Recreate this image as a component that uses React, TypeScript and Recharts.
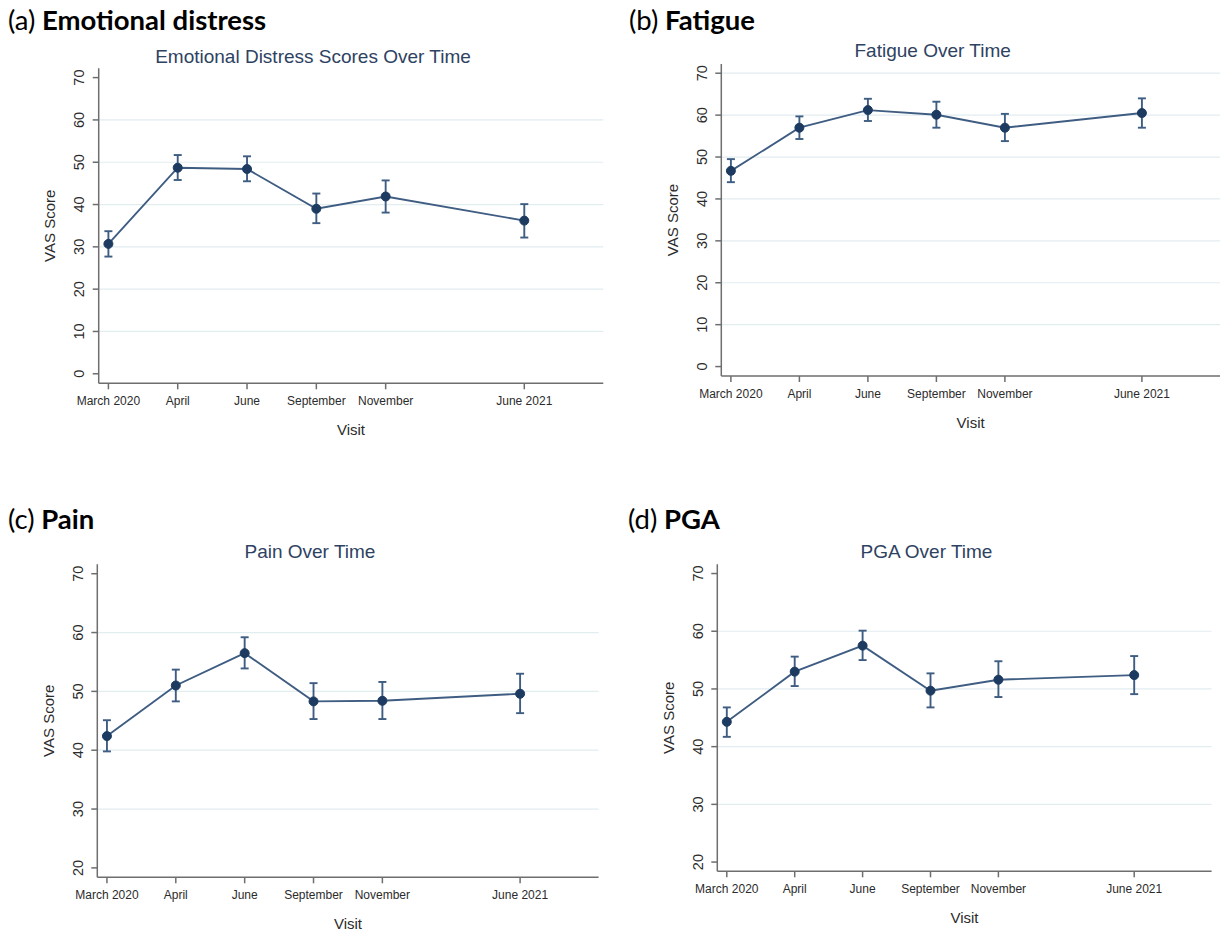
import React from "react";
import { LineChart, Line, XAxis, YAxis, ErrorBar, ReferenceLine } from "recharts";

// visits (x position = visit number, June 2021 skips one slot)
const visitLabels = ["March 2020", "April", "June", "September", "November", "June 2021"];
const visitNumber = [1, 2, 3, 4, 5, 7];

// (a) emotional distress
const distressMean = [30.7, 48.7, 48.4, 39.0, 41.9, 36.2];
const distressLow = [27.7, 45.8, 45.5, 35.6, 38.1, 32.2];
const distressHigh = [33.7, 51.7, 51.4, 42.6, 45.7, 40.1];

// (b) fatigue
const fatigueMean = [46.7, 57.0, 61.2, 60.1, 57.0, 60.5];
const fatigueLow = [44.0, 54.3, 58.6, 57.0, 53.8, 57.0];
const fatigueHigh = [49.5, 59.7, 63.9, 63.2, 60.3, 64.0];

// (c) pain
const painMean = [42.4, 51.0, 56.5, 48.3, 48.4, 49.6];
const painLow = [39.8, 48.3, 53.9, 45.3, 45.3, 46.3];
const painHigh = [45.1, 53.7, 59.2, 51.4, 51.6, 53.0];

// (d) PGA
const pgaMean = [44.3, 53.0, 57.5, 49.7, 51.6, 52.4];
const pgaLow = [41.7, 50.5, 55.0, 46.8, 48.6, 49.1];
const pgaHigh = [46.8, 55.6, 60.1, 52.7, 54.8, 55.7];

const ticksFull = [0, 10, 20, 30, 40, 50, 60, 70];
const ticksShort = [20, 30, 40, 50, 60, 70];

const NAVY = "#1d3b60";
const LINE = "#3f5d82";
const AXIS = "#6e6e6e";
const GRID = "#e2edf0";
const TEXT = "#2b2b2b";
const TITLE = "#2e4262";
const SANS = "'Liberation Sans', Arial, sans-serif";

const XTick = (props: any) => {
  const { x, y, payload } = props;
  const label = visitLabels[visitNumber.indexOf(payload.value)];
  return (
    <text x={x} y={y + 14} textAnchor="middle" fontSize={12} fill={TEXT} fontFamily={SANS}>
      {label}
    </text>
  );
};

const YTick = (props: any) => {
  const { x, y, payload } = props;
  const cx = x - 11.5;
  return (
    <text
      x={cx}
      y={y}
      transform={`rotate(-90 ${cx} ${y})`}
      textAnchor="middle"
      dominantBaseline="central"
      fontSize={14.5}
      fill={TEXT}
      fontFamily={SANS}
    >
      {payload.value}
    </text>
  );
};

type PanelProps = {
  left: number;
  top: number;
  width: number;
  height: number;
  plot: { l: number; r: number; t: number; b: number };
  mean: number[];
  low: number[];
  high: number[];
  yDomain: [number, number];
  yTicks: number[];
  grid: number[];
};

function Panel({ left, top, width, height, plot, mean, low, high, yDomain, yTicks, grid }: PanelProps) {
  const data = visitNumber.map((v, i) => ({
    visit: v,
    score: mean[i],
    ci: [mean[i] - low[i], high[i] - mean[i]],
  }));
  const yAxisWidth = plot.l - left;
  const xAxisHeight = top + height - plot.b;
  return (
    <div style={{ position: "absolute", left, top }}>
      <LineChart
        width={width}
        height={height}
        data={data}
        margin={{ top: plot.t - top, right: left + width - plot.r, bottom: 0, left: 0 }}
      >
        {grid.map((g) => (
          <ReferenceLine key={g} y={g} stroke={GRID} strokeWidth={1.2} />
        ))}
        <XAxis
          dataKey="visit"
          type="number"
          domain={[0.86, 8.14]}
          ticks={visitNumber}
          allowDataOverflow
          height={xAxisHeight}
          stroke={AXIS}
          strokeWidth={1.5}
          tickSize={6}
          tick={<XTick />}
        />
        <YAxis
          type="number"
          domain={yDomain}
          ticks={yTicks}
          allowDataOverflow
          width={yAxisWidth}
          stroke={AXIS}
          strokeWidth={1.5}
          tickSize={6}
          tick={<YTick />}
        />
        <Line
          type="linear"
          dataKey="score"
          stroke={LINE}
          strokeWidth={1.9}
          dot={{ r: 4.5, fill: NAVY, stroke: NAVY, strokeWidth: 1 }}
          isAnimationActive={false}
        >
          <ErrorBar dataKey="ci" direction="y" width={4} stroke={LINE} strokeWidth={1.9} />
        </Line>
      </LineChart>
    </div>
  );
}

const panels = [
  {
    key: "a",
    letter: "(a)",
    heading: "Emotional distress",
    title: "Emotional Distress Scores Over Time",
    headX: 8,
    headY: 30,
    titleY: 62.5,
    left: 0,
    top: 0,
    width: 620,
    height: 460,
    plot: { l: 98.7, r: 603.3, t: 68.3, b: 383.3 },
    mean: distressMean,
    low: distressLow,
    high: distressHigh,
    yDomain: [-2.25, 72.2] as [number, number],
    yTicks: ticksFull,
    grid: [10, 20, 30, 40, 50, 60],
  },
  {
    key: "b",
    letter: "(b)",
    heading: "Fatigue",
    title: "Fatigue Over Time",
    headX: 629,
    headY: 30,
    titleY: 56.5,
    left: 620,
    top: 0,
    width: 600,
    height: 460,
    plot: { l: 721.3, r: 1220, t: 64, b: 376 },
    mean: fatigueMean,
    low: fatigueLow,
    high: fatigueHigh,
    yDomain: [-2.25, 72.2] as [number, number],
    yTicks: ticksFull,
    grid: [10, 20, 30, 40, 50, 60, 70],
  },
  {
    key: "c",
    letter: "(c)",
    heading: "Pain",
    title: "Pain Over Time",
    headX: 8,
    headY: 529,
    titleY: 558,
    left: 0,
    top: 470,
    width: 620,
    height: 462,
    plot: { l: 97.3, r: 598.6, t: 564.3, b: 877.3 },
    mean: painMean,
    low: painLow,
    high: painHigh,
    yDomain: [18.4, 71.6] as [number, number],
    yTicks: ticksShort,
    grid: [30, 40, 50, 60],
  },
  {
    key: "d",
    letter: "(d)",
    heading: "PGA",
    title: "PGA Over Time",
    headX: 628,
    headY: 529,
    titleY: 558,
    left: 620,
    top: 470,
    width: 600,
    height: 462,
    plot: { l: 717.3, r: 1211.6, t: 564.3, b: 871.3 },
    mean: pgaMean,
    low: pgaLow,
    high: pgaHigh,
    yDomain: [18.4, 71.6] as [number, number],
    yTicks: ticksShort,
    grid: [30, 40, 50, 60],
  },
];

export default function App() {
  return (
    <div style={{ position: "absolute", left: 0, top: 0, width: 1220, height: 932, background: "#fff", overflow: "hidden" }}>
      {panels.map((p) => (
        <Panel
          key={p.key}
          left={p.left}
          top={p.top}
          width={p.width}
          height={p.height}
          plot={p.plot}
          mean={p.mean}
          low={p.low}
          high={p.high}
          yDomain={p.yDomain}
          yTicks={p.yTicks}
          grid={p.grid}
        />
      ))}
      <svg width={1220} height={932} style={{ position: "absolute", left: 0, top: 0, pointerEvents: "none" }}>
        {panels.map((p) => {
          const midX = (p.plot.l + p.plot.r) / 2;
          const midY = (p.plot.t + p.plot.b) / 2;
          const vasX = p.plot.l - 49;
          return (
            <g key={p.key}>
              <text x={p.headX} y={p.headY} fontFamily="Lato, sans-serif" fontSize={27.5} fill="#000">
                {p.letter}
                <tspan fontWeight={700}>{" " + p.heading}</tspan>
              </text>
              <text x={midX - 38} y={p.titleY} textAnchor="middle" fontFamily={SANS} fontSize={19} fill={TITLE}>
                {p.title}
              </text>
              <text
                x={vasX}
                y={midY}
                transform={`rotate(-90 ${vasX} ${midY})`}
                textAnchor="middle"
                dominantBaseline="central"
                fontFamily={SANS}
                fontSize={15}
                fill={TEXT}
              >
                VAS Score
              </text>
              <text x={midX} y={p.plot.b + 52} textAnchor="middle" fontFamily={SANS} fontSize={15} fill={TEXT}>
                Visit
              </text>
            </g>
          );
        })}
      </svg>
    </div>
  );
}
